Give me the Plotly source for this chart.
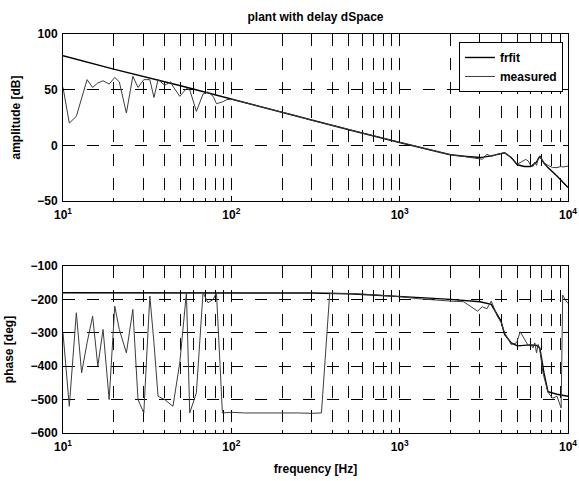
import plotly.graph_objects as go

# Frequency-response fit (frfit)
freq_fit = [10, 20, 50, 100, 200, 300, 500, 1000, 1500, 2000, 2500, 3000, 3500,
            4000, 4200, 4600, 5000, 5500, 6000, 6500, 6800, 7200, 7600, 8600,
            9300, 10000]
amp_fit = [80.5, 68.5, 53.5, 41.5, 29.5, 22.5, 14.0, 2.5, -4.0, -8.5, -10.0,
           -11.0, -9.5, -7.0, -6.7, -11.0, -17.5, -19.0, -19.0, -15.0, -9.7,
           -16.0, -20.0, -27.6, -33.0, -38.0]
phase_fit = [-180, -180, -180, -180, -180, -181, -183, -190, -196, -200, -204,
             -207, -215, -265, -305, -330, -339, -338, -336, -338, -345, -420,
             -476, -484, -487, -490]

# Measured response
freq_meas = [10.0, 10.9, 12.0, 12.9, 13.9, 15.0, 16.1, 17.3, 18.8, 20.3, 21.6,
             23.8, 26.0, 27.9, 30.2, 32.8, 34.7, 36.7, 40.2, 43.6, 45.0, 49.4,
             54.1, 56.6, 62.0, 67.9, 72.7, 78.0, 81.6, 88.5, 94.0, 100, 120,
             150, 200, 250, 300, 343, 384, 450, 550, 700, 850, 1000, 1300,
             1600, 2000, 2400, 2700, 2900, 3100, 3300, 3500, 3800, 4000, 4200,
             4600, 4950, 5200, 5600, 5800, 6000, 6200, 6350, 6500, 6650, 6800,
             7100, 7600, 8100, 8600, 9100, 9300, 9600, 10000]
amp_meas = [52, 20, 26, 42, 59, 52, 56, 58, 55, 61, 57,
            29, 62, 52, 59, 59, 43, 59, 54, 57, 53, 44,
            51, 50, 30.5, 46, 48, 44, 37.4, 39, 41, 41.5, 38.5,
            34.5, 29.5, 26, 22.5, 20.5, 18.5, 16, 12.5, 8.5, 5, 2.5, -2,
            -5, -8.5, -10, -11, -12, -12.5, -8, -10, -8, -7.5, -6.7,
            -11, -17, -15.5, -12.7, -14, -18, -19, -15, -18, -12, -9.7,
            -15, -18, -20, -20, -19, -19.5, -19, -18.7]
phase_meas = [-300, -520, -240, -420, -330, -250, -400, -290, -500, -220, -290,
              -360, -230, -500, -540, -190, -330, -490, -500, -515, -520, -390,
              -180, -540, -480, -180, -210, -200, -180, -540, -538, -538, -540,
              -540, -538, -540, -541, -540, -182, -182, -183, -186, -189, -192,
              -198, -202, -205, -207, -225, -235, -222, -228, -205, -250, -268,
              -300, -335, -330, -297, -325, -338, -335, -345, -330, -360, -335,
              -350, -420, -478, -496, -490, -525, -187, -200, -212]

# Axis ticks
x_tick_vals = [10, 100, 1000, 10000]
x_tick_text = ["10<sup>1</sup>", "10<sup>2</sup>", "10<sup>3</sup>", "10<sup>4</sup>"]
amp_ticks = [-50, 0, 50, 100]
phase_ticks = [-600, -500, -400, -300, -200, -100]
minor_x = [m * 10 ** d for d in (1, 2, 3) for m in range(2, 10)]

FONT = dict(family="Liberation Sans, Arial, sans-serif", size=12, color="black",
            weight="bold")
LEGEND_FONT = dict(family="Liberation Sans, Arial, sans-serif", size=12,
                   color="black")
FIT_STYLE = dict(color="#000000", width=1.4)
MEAS_STYLE = dict(color="#3c3c3c", width=1)

fig = go.Figure()
fig.add_trace(go.Scatter(x=freq_fit, y=amp_fit, mode="lines", name="frfit",
                         line=FIT_STYLE, legendgroup="fit", xaxis="x", yaxis="y"))
fig.add_trace(go.Scatter(x=freq_meas, y=amp_meas, mode="lines", name="measured",
                         line=MEAS_STYLE, legendgroup="meas", xaxis="x", yaxis="y"))
fig.add_trace(go.Scatter(x=freq_fit, y=phase_fit, mode="lines", name="frfit",
                         line=FIT_STYLE, legendgroup="fit", showlegend=False,
                         xaxis="x2", yaxis="y2"))
fig.add_trace(go.Scatter(x=freq_meas, y=phase_meas, mode="lines", name="measured",
                         line=MEAS_STYLE, legendgroup="meas", showlegend=False,
                         xaxis="x2", yaxis="y2"))

grid = dict(showgrid=True, gridcolor="black", gridwidth=1, griddash="12px,12px")
frame = dict(showline=True, linecolor="black", linewidth=1, mirror="ticks",
             ticks="inside", ticklen=5, tickcolor="black", zeroline=False,
             tickfont=FONT)
xcommon = dict(type="log", range=[1, 4], tickmode="array", tickvals=x_tick_vals,
               ticktext=x_tick_text, ticklabelstandoff=3,
               minor=dict(tickmode="array", tickvals=minor_x, ticks="inside",
                          ticklen=3, tickcolor="black", showgrid=True,
                          gridcolor="black", gridwidth=1, griddash="12px,12px"),
               **grid, **frame)
ycommon = dict(tickmode="array", ticklabelstandoff=2, **grid, **frame)

fig.update_layout(
    width=579, height=481,
    margin=dict(l=63, r=11, t=34, b=48, autoexpand=False),
    paper_bgcolor="white", plot_bgcolor="white",
    font=FONT,
    title=dict(text="plant with delay dSpace", x=0.5, xref="paper",
               y=1 - 16.5 / 481, yref="container", yanchor="middle",
               font=FONT),
    xaxis=dict(domain=[0, 1], anchor="y", **xcommon),
    yaxis=dict(domain=[0.5815, 1], anchor="x", range=[-50, 100],
               tickvals=amp_ticks,
               title=dict(text="amplitude [dB]", font=FONT, standoff=14),
               **ycommon),
    xaxis2=dict(domain=[0, 1], anchor="y2",
                title=dict(text="frequency [Hz]", font=FONT, standoff=11),
                **xcommon),
    yaxis2=dict(domain=[0, 0.4185], anchor="x2", range=[-600, -100],
                tickvals=phase_ticks,
                title=dict(text="phase [deg]", font=FONT, standoff=14),
                **ycommon),
    legend=dict(x=0.99, y=0.98, xanchor="right", yanchor="top",
                bordercolor="black", borderwidth=1, bgcolor="white",
                font=LEGEND_FONT, tracegroupgap=0, itemwidth=30),
)

fig.write_html("out.html")
